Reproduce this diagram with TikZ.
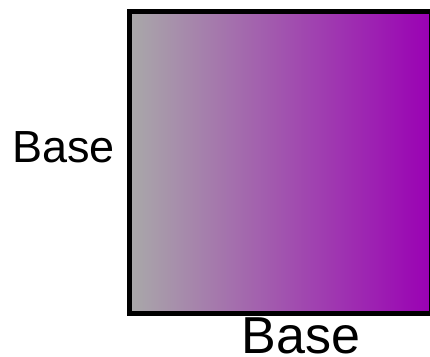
\documentclass[tikz,border=0pt]{standalone}
\usepackage{fontspec}
\setmainfont{Liberation Sans}
\usepackage{tikz}
\usetikzlibrary{positioning}
\definecolor{basegray}{HTML}{A9A9A9}
\definecolor{basepurple}{HTML}{9A00B4}
\tikzset{
  sqbox/.style={draw=black,line width=5pt,left color=basegray,right color=basepurple},
  baselabel/.style={inner sep=0pt,anchor=base}
}
\begin{document}
\begin{tikzpicture}[x=1pt,y=1pt]
  \useasboundingbox (0,0) rectangle (430,356);
  % square with gradient
  \draw[sqbox] (129.5,42.5) rectangle (431.5,344.5);
  % side labels
  \node[baselabel,font=\fontsize{45}{50}\selectfont] (leftbase) at (63.4,193.7) {Base};
  \node[baselabel,font=\fontsize{52}{58}\selectfont] (bottombase) at (300.8,3) {Base};
\end{tikzpicture}
\end{document}
